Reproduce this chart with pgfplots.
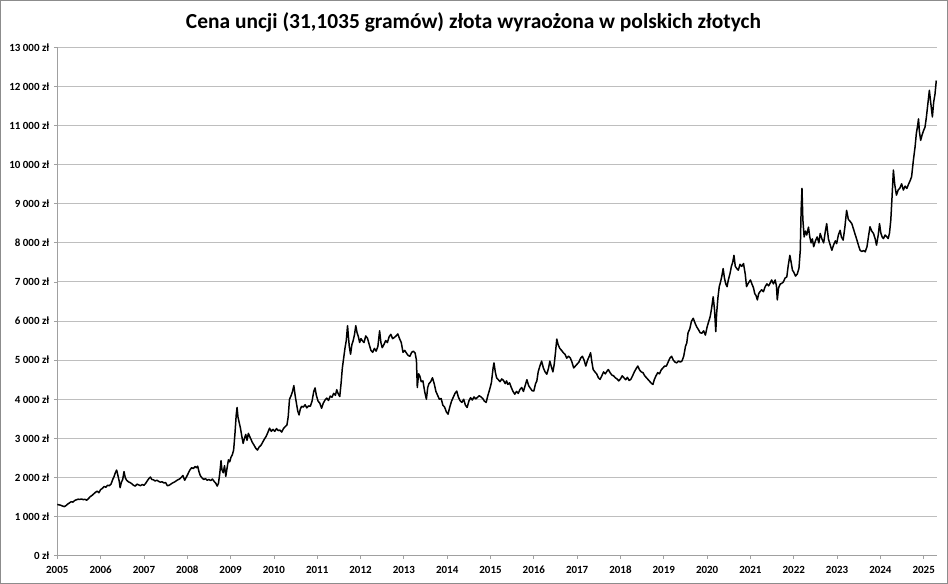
\documentclass[border=0pt]{standalone}
\usepackage{pgfplots}
\pgfplotsset{compat=1.18}
\usepackage{fontspec}
\setmainfont{Carlito}
\definecolor{gridgray}{RGB}{190,190,190}
\definecolor{axgray}{RGB}{160,160,160}
\definecolor{bordergray}{RGB}{140,140,140}
\begin{document}
\begin{tikzpicture}[x=1bp,y=1bp]
\useasboundingbox (0,0) rectangle (948,584);
\draw[bordergray, line width=1bp] (0.5,0.5) rectangle (947.5,583.5);
\node[font=\fontsize{21.5}{24}\selectfont\bfseries, anchor=base] at (473.5,555.7) {Cena uncji (31,1035 gramów) złota wyraożona w polskich złotych};
\begin{axis}[
  at={(57.3bp,28.3bp)}, anchor=south west,
  width=879.4bp, height=508.4bp, scale only axis,
  xmin=2005, xmax=2025.3, ymin=0, ymax=13000,
  scaled y ticks=false, scaled x ticks=false,
  axis x line*=bottom, axis y line*=left,
  axis line style={axgray, line width=0.8bp},
  xtick={2005,2006,...,2025},
  xticklabels={2005,2006,2007,2008,2009,2010,2011,2012,2013,2014,2015,2016,2017,2018,2019,2020,2021,2022,2023,2024,2025},
  ytick={0,1000,...,13000},
  yticklabels={0 zł,1 000 zł,2 000 zł,3 000 zł,4 000 zł,5 000 zł,6 000 zł,7 000 zł,8 000 zł,9 000 zł,10 000 zł,11 000 zł,12 000 zł,13 000 zł},
  tick align=outside, major tick length=3.5bp,
  tick style={axgray, line width=0.8bp},
  ymajorgrids, major grid style={gridgray, line width=1bp},
  ticklabel style={font=\fontsize{11}{13}\selectfont\bfseries},
  xticklabel style={anchor=base, yshift=-14.5bp},
  yticklabel style={xshift=-1bp},
  clip=false,
]
\addplot[black, line width=1.5pt, line join=round] coordinates {
(2005.00,1310)(2005.04,1300)(2005.08,1290)(2005.12,1270)(2005.16,1255)(2005.20,1280)(2005.24,1320)(2005.28,1350)(2005.32,1380)(2005.36,1370)(2005.40,1410)(2005.44,1430)(2005.48,1445)(2005.52,1440)(2005.56,1450)(2005.60,1435)(2005.64,1440)(2005.68,1420)(2005.72,1460)(2005.76,1510)(2005.80,1540)(2005.84,1580)(2005.88,1620)(2005.92,1650)(2005.96,1610)
(2006.00,1690)(2006.04,1720)(2006.08,1770)(2006.12,1750)(2006.16,1800)(2006.20,1790)(2006.24,1830)(2006.28,1950)(2006.31,2020)(2006.34,2120)(2006.37,2190)(2006.40,2050)(2006.43,1900)(2006.45,1740)(2006.48,1880)(2006.51,1950)(2006.54,2150)(2006.57,1990)(2006.60,1930)(2006.64,1890)(2006.68,1870)(2006.72,1840)(2006.76,1800)(2006.80,1780)(2006.84,1830)(2006.88,1810)(2006.92,1790)(2006.96,1820)
(2007.00,1800)(2007.04,1850)(2007.08,1920)(2007.12,1980)(2007.15,2010)(2007.18,1950)(2007.22,1940)(2007.26,1910)(2007.30,1930)(2007.34,1900)(2007.38,1880)(2007.42,1890)(2007.46,1860)(2007.50,1870)(2007.54,1790)(2007.58,1800)(2007.62,1830)(2007.66,1860)(2007.70,1880)(2007.74,1910)(2007.78,1940)(2007.82,1960)(2007.86,2000)(2007.90,2050)(2007.94,1930)(2007.98,2010)
(2008.02,2100)(2008.06,2190)(2008.10,2250)(2008.14,2230)(2008.18,2280)(2008.21,2250)(2008.24,2290)(2008.27,2150)(2008.30,2050)(2008.34,1990)(2008.38,1950)(2008.42,1970)(2008.46,1930)(2008.50,1950)(2008.54,1920)(2008.58,1960)(2008.62,1900)(2008.66,1850)(2008.69,1780)(2008.72,1850)(2008.75,2100)(2008.78,2430)(2008.80,2200)(2008.83,2120)(2008.86,2300)(2008.89,2030)(2008.92,2250)(2008.95,2450)(2008.98,2400)
(2009.01,2520)(2009.04,2580)(2009.07,2700)(2009.10,3100)(2009.13,3600)(2009.15,3790)(2009.17,3550)(2009.20,3400)(2009.23,3250)(2009.26,3050)(2009.29,2870)(2009.32,3000)(2009.35,3100)(2009.38,2950)(2009.41,3130)(2009.44,3050)(2009.47,2980)(2009.50,2900)(2009.54,2830)(2009.58,2750)(2009.62,2700)(2009.66,2780)(2009.70,2820)(2009.74,2900)(2009.78,2980)(2009.82,3050)(2009.86,3150)(2009.90,3260)(2009.94,3180)(2009.98,3230)
(2010.02,3180)(2010.06,3250)(2010.10,3200)(2010.14,3210)(2010.18,3160)(2010.22,3250)(2010.26,3300)(2010.30,3340)(2010.33,3550)(2010.36,4000)(2010.40,4100)(2010.43,4200)(2010.46,4350)(2010.49,4100)(2010.52,3900)(2010.55,3700)(2010.58,3600)(2010.61,3750)(2010.64,3820)(2010.68,3800)(2010.72,3860)(2010.76,3780)(2010.80,3830)(2010.84,3820)(2010.88,3950)(2010.92,4200)(2010.95,4290)(2010.98,4100)
(2011.02,3950)(2011.06,3900)(2011.10,3770)(2011.14,3900)(2011.18,3980)(2011.22,4030)(2011.26,3970)(2011.30,4080)(2011.34,4050)(2011.38,4150)(2011.42,4100)(2011.45,4245)(2011.48,4150)(2011.52,4070)(2011.55,4400)(2011.58,4800)(2011.61,5050)(2011.64,5300)(2011.67,5500)(2011.70,5880)(2011.72,5600)(2011.74,5350)(2011.77,5150)(2011.80,5400)(2011.83,5500)(2011.86,5650)(2011.89,5880)(2011.92,5700)(2011.95,5600)(2011.98,5450)
(2012.01,5550)(2012.04,5500)(2012.08,5450)(2012.12,5620)(2012.16,5560)(2012.20,5400)(2012.24,5250)(2012.28,5200)(2012.32,5300)(2012.36,5230)(2012.40,5350)(2012.44,5750)(2012.47,5450)(2012.50,5320)(2012.54,5400)(2012.58,5500)(2012.62,5450)(2012.66,5600)(2012.70,5660)(2012.74,5550)(2012.78,5580)(2012.82,5620)(2012.86,5670)(2012.90,5550)(2012.94,5450)(2012.98,5200)
(2013.02,5250)(2013.06,5180)(2013.10,5120)(2013.14,5100)(2013.18,5200)(2013.22,5230)(2013.26,5180)(2013.29,5000)(2013.31,4300)(2013.34,4650)(2013.37,4590)(2013.40,4450)(2013.44,4470)(2013.48,4200)(2013.52,4000)(2013.55,4300)(2013.58,4400)(2013.62,4450)(2013.66,4550)(2013.70,4400)(2013.74,4200)(2013.78,4100)(2013.82,4000)(2013.86,4020)(2013.90,3850)(2013.94,3800)(2013.98,3680)
(2014.02,3620)(2014.06,3800)(2014.10,3950)(2014.14,4050)(2014.18,4150)(2014.22,4210)(2014.26,4050)(2014.30,3960)(2014.34,3920)(2014.38,4000)(2014.42,3850)(2014.46,3790)(2014.50,3950)(2014.54,4040)(2014.58,3980)(2014.62,4060)(2014.66,4010)(2014.70,4050)(2014.74,4090)(2014.78,4060)(2014.82,4020)(2014.86,3950)(2014.90,3920)(2014.94,4100)(2014.98,4250)
(2015.02,4420)(2015.06,4800)(2015.08,4930)(2015.11,4700)(2015.14,4550)(2015.18,4500)(2015.22,4450)(2015.26,4520)(2015.30,4480)(2015.34,4400)(2015.37,4470)(2015.40,4380)(2015.44,4420)(2015.48,4300)(2015.52,4200)(2015.56,4130)(2015.60,4200)(2015.64,4150)(2015.68,4250)(2015.72,4300)(2015.76,4200)(2015.80,4350)(2015.84,4500)(2015.88,4350)(2015.92,4280)(2015.96,4220)
(2016.00,4210)(2016.04,4400)(2016.07,4470)(2016.10,4700)(2016.14,4850)(2016.18,4975)(2016.22,4800)(2016.26,4700)(2016.30,4640)(2016.34,4800)(2016.37,4975)(2016.40,4850)(2016.44,4700)(2016.47,4890)(2016.50,5200)(2016.53,5540)(2016.56,5400)(2016.60,5300)(2016.64,5250)(2016.68,5190)(2016.72,5150)(2016.76,5050)(2016.80,5100)(2016.84,5060)(2016.88,4950)(2016.92,4800)(2016.96,4850)
(2017.00,4900)(2017.04,4950)(2017.08,5050)(2017.12,5100)(2017.16,5000)(2017.20,4850)(2017.24,5000)(2017.28,5100)(2017.31,5190)(2017.34,4950)(2017.37,4760)(2017.41,4700)(2017.45,4650)(2017.49,4550)(2017.53,4510)(2017.57,4600)(2017.61,4700)(2017.65,4650)(2017.69,4720)(2017.72,4760)(2017.76,4680)(2017.80,4620)(2017.84,4600)(2017.88,4550)(2017.92,4520)(2017.96,4470)
(2018.00,4520)(2018.04,4600)(2018.08,4550)(2018.12,4500)(2018.16,4560)(2018.20,4480)(2018.24,4510)(2018.28,4600)(2018.32,4700)(2018.36,4780)(2018.40,4850)(2018.44,4750)(2018.48,4700)(2018.52,4680)(2018.56,4600)(2018.60,4550)(2018.64,4500)(2018.68,4450)(2018.72,4400)(2018.75,4380)(2018.78,4500)(2018.82,4600)(2018.86,4680)(2018.90,4650)(2018.94,4750)(2018.98,4800)
(2019.02,4850)(2019.06,4850)(2019.10,4950)(2019.14,5050)(2019.18,5100)(2019.22,5000)(2019.26,4950)(2019.30,4930)(2019.34,4980)(2019.38,4950)(2019.42,4980)(2019.46,5100)(2019.50,5350)(2019.53,5440)(2019.56,5700)(2019.60,5800)(2019.64,6000)(2019.68,6070)(2019.72,5950)(2019.76,5850)(2019.80,5780)(2019.84,5700)(2019.88,5690)(2019.92,5750)(2019.96,5640)
(2020.00,5850)(2020.04,6000)(2020.07,6110)(2020.10,6300)(2020.14,6620)(2020.17,6300)(2020.20,5730)(2020.22,6200)(2020.25,6600)(2020.28,6880)(2020.31,7000)(2020.34,7150)(2020.37,7340)(2020.40,7100)(2020.43,6950)(2020.46,6880)(2020.49,7050)(2020.53,7220)(2020.56,7400)(2020.59,7500)(2020.62,7680)(2020.65,7400)(2020.68,7350)(2020.72,7300)(2020.76,7450)(2020.80,7400)(2020.84,7470)(2020.88,7200)(2020.91,6880)(2020.94,6950)(2020.97,7000)
(2021.00,7050)(2021.03,6960)(2021.07,6850)(2021.10,6700)(2021.13,6650)(2021.16,6540)(2021.19,6700)(2021.22,6750)(2021.26,6800)(2021.30,6750)(2021.34,6880)(2021.38,6950)(2021.42,6900)(2021.45,6960)(2021.49,7050)(2021.53,6950)(2021.57,7050)(2021.60,6900)(2021.62,6540)(2021.65,6850)(2021.69,6950)(2021.72,6960)(2021.76,7000)(2021.80,7100)(2021.84,7130)(2021.87,7400)(2021.91,7680)(2021.94,7500)(2021.97,7300)
(2022.00,7250)(2022.04,7150)(2022.08,7200)(2022.12,7350)(2022.15,7800)(2022.17,8830)(2022.19,9390)(2022.21,8600)(2022.24,8150)(2022.27,8300)(2022.30,8200)(2022.34,8400)(2022.37,8150)(2022.40,8000)(2022.43,8100)(2022.46,7900)(2022.50,8050)(2022.54,8150)(2022.58,8000)(2022.61,8240)(2022.65,8100)(2022.69,8000)(2022.73,8300)(2022.76,8490)(2022.80,8100)(2022.84,7950)(2022.88,7810)(2022.92,7950)(2022.96,8050)(2022.99,7980)
(2023.03,8200)(2023.07,8320)(2023.10,8150)(2023.14,8070)(2023.18,8400)(2023.22,8830)(2023.26,8600)(2023.30,8550)(2023.34,8490)(2023.38,8350)(2023.41,8240)(2023.45,8100)(2023.49,7950)(2023.53,7810)(2023.57,7780)(2023.61,7800)(2023.65,7770)(2023.69,7900)(2023.73,8200)(2023.76,8410)(2023.80,8300)(2023.84,8240)(2023.88,8100)(2023.91,7940)(2023.95,8200)(2023.98,8490)
(2024.01,8250)(2024.04,8150)(2024.07,8110)(2024.11,8200)(2024.15,8150)(2024.18,8110)(2024.21,8250)(2024.24,8580)(2024.27,9200)(2024.30,9860)(2024.33,9500)(2024.37,9220)(2024.41,9350)(2024.45,9400)(2024.49,9510)(2024.53,9350)(2024.57,9450)(2024.61,9390)(2024.65,9500)(2024.69,9600)(2024.72,9690)(2024.76,10100)(2024.80,10450)(2024.83,10800)(2024.86,11000)(2024.88,11170)(2024.90,10850)(2024.93,10620)(2024.96,10750)(2024.99,10850)
(2025.03,10960)(2025.06,11200)(2025.09,11500)(2025.11,11700)(2025.13,11900)(2025.16,11600)(2025.20,11220)(2025.23,11600)(2025.26,11800)(2025.29,12150)
};
\end{axis}
\end{tikzpicture}
\end{document}
